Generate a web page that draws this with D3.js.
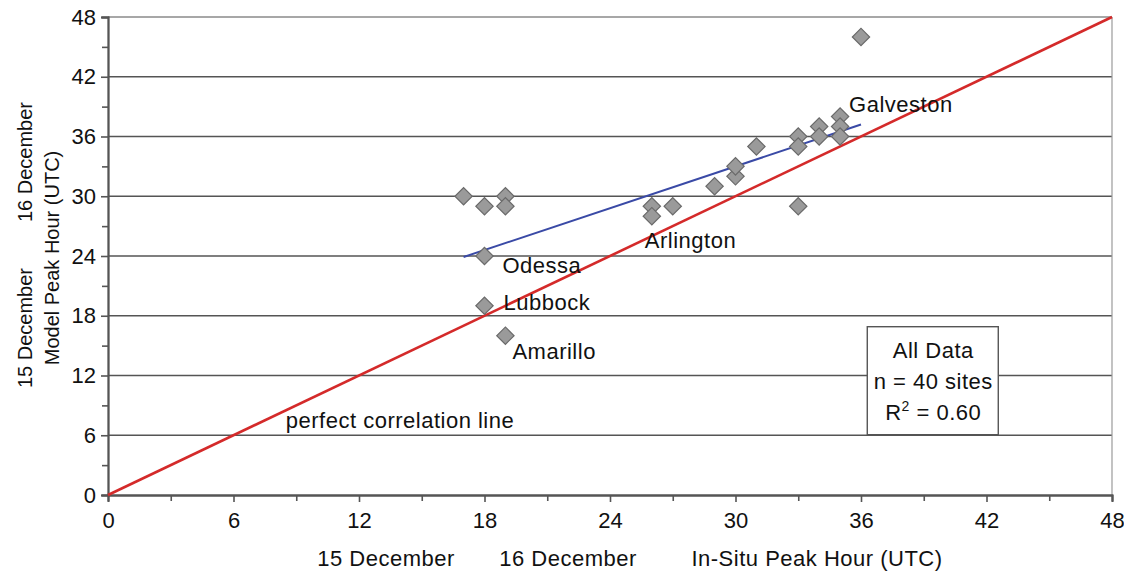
<!DOCTYPE html>
<html>
<head>
<meta charset="utf-8">
<script src="https://cdn.jsdelivr.net/npm/d3@7"></script>
<style>
  body { margin: 0; background: #fff; }
  text { font-family: Arial, "Liberation Sans", sans-serif; fill: #111; }
  .lbl { letter-spacing: 0.5px; }
</style>
</head>
<body>
<div id="chart"></div>
<script>
// observed peak hour (x) vs model peak hour (y), hours since 00 UTC 15 Dec
var siteX = [17, 18, 19, 19, 18, 18, 19, 26, 26, 27, 29, 30, 30, 31, 33, 33, 33, 34, 34, 35, 35, 35, 36];
var siteY = [30, 29, 30, 29, 24, 19, 16, 29, 28, 29, 31, 32, 33, 35, 36, 35, 29, 37, 36, 38, 37, 36, 46];
var siteName = ["", "", "", "", "Odessa", "Lubbock", "Amarillo", "", "Arlington", "", "", "", "", "", "", "", "", "", "", "Galveston", "", "", ""];
var trendX = [17, 36];
var trendY = [23.9, 37.2];
var tickVals = [0, 6, 12, 18, 24, 30, 36, 42, 48];
var minorVals = [3, 9, 15, 21, 27, 33, 39, 45];
var boxLines = ["All Data", "n = 40 sites", "R2 = 0.60"];

var W = 1124, H = 574;
var margin = { top: 17, right: 12, bottom: 79, left: 108 };
var w = W - margin.left - margin.right;
var h = H - margin.top - margin.bottom;

var svg = d3.select('#chart').append('svg')
    .attr('width', W)
    .attr('height', H);

var g = svg.append('g')
    .attr('transform', `translate(${margin.left},${margin.top})`);

var x = d3.scaleLinear().domain([0, 48]).range([0, w]);
var y = d3.scaleLinear().domain([0, 48]).range([h, 0]);

// horizontal grid
g.selectAll('.grid')
    .data(tickVals.slice(1, -1))
    .enter().append('line')
    .attr('x1', 0).attr('x2', w)
    .attr('y1', d => y(d)).attr('y2', d => y(d))
    .style('stroke', '#555')
    .style('stroke-width', 1.4);

// frame top/right
g.append('line').attr('x1', 0).attr('x2', w).attr('y1', 0).attr('y2', 0)
    .style('stroke', '#8a8a8a').style('stroke-width', 1.4);
g.append('line').attr('x1', w).attr('x2', w).attr('y1', 0).attr('y2', h)
    .style('stroke', '#9a9a9a').style('stroke-width', 1.2);

// axes
var xAxis = g.append('g')
    .attr('transform', `translate(0,${h})`)
    .call(d3.axisBottom(x).tickValues(tickVals).tickSize(7).tickPadding(10).tickFormat(d3.format('d')));
var xMinor = g.append('g')
    .attr('transform', `translate(0,${h})`)
    .call(d3.axisBottom(x).tickValues(minorVals).tickSize(6).tickFormat(''));
var yAxis = g.append('g')
    .call(d3.axisLeft(y).tickValues(tickVals).tickSize(7).tickPadding(5).tickFormat(d3.format('d')));
var yMinor = g.append('g')
    .call(d3.axisLeft(y).tickValues(minorVals).tickSize(6).tickFormat(''));

[xAxis, xMinor, yAxis, yMinor].forEach(function (a) {
    a.select('.domain').style('stroke', '#555').style('stroke-width', 1.8);
    a.selectAll('.tick line').style('stroke', '#555').style('stroke-width', 1.6);
    a.selectAll('.tick text').style('font-size', '22px').style('fill', '#111');
});

// perfect correlation line
g.append('line')
    .attr('x1', x(0)).attr('y1', y(0))
    .attr('x2', x(48)).attr('y2', y(48))
    .style('stroke', '#d42a2a')
    .style('stroke-width', 2.6);

// trend line
g.append('line')
    .attr('x1', x(trendX[0])).attr('y1', y(trendY[0]))
    .attr('x2', x(trendX[1])).attr('y2', y(trendY[1]))
    .style('stroke', '#3a4aa6')
    .style('stroke-width', 2);

// points
var diamond = d3.symbol().type(d3.symbolSquare).size(150);
g.selectAll('.pt')
    .data(siteX)
    .enter().append('path')
    .attr('d', diamond)
    .attr('transform', (d, i) => `translate(${x(d)},${y(siteY[i])}) rotate(45)`)
    .style('fill', '#9a9a9a')
    .style('stroke', '#6a6a6a')
    .style('stroke-width', 1.2);

// site labels
var labelOffset = {
    "Odessa": [18, 17],
    "Lubbock": [19, 4],
    "Amarillo": [7, 23],
    "Arlington": [-7, 32],
    "Galveston": [9, -5]
};
siteName.forEach(function (name, i) {
    if (!name) return;
    var off = labelOffset[name];
    g.append('text')
        .attr('class', 'lbl')
        .attr('x', x(siteX[i]) + off[0])
        .attr('y', y(siteY[i]) + off[1])
        .style('font-size', '22px')
        .text(name);
});

g.append('text')
    .attr('class', 'lbl')
    .attr('x', x(8.5))
    .attr('y', y(6) - 7)
    .style('font-size', '22px')
    .text('perfect correlation line');

// stats box
var box = g.append('g').attr('transform', `translate(${x(36.3)},${y(16.9)})`);
box.append('rect')
    .attr('width', 131).attr('height', 108)
    .style('fill', '#fff')
    .style('stroke', '#555')
    .style('stroke-width', 1.4);
var bt = box.selectAll('.bt')
    .data(boxLines)
    .enter().append('text')
    .attr('class', 'lbl')
    .attr('x', 66)
    .attr('y', (d, i) => 31 + i * 31)
    .attr('text-anchor', 'middle')
    .style('font-size', '22px');
bt.each(function (d) {
    var t = d3.select(this);
    if (d.indexOf('R2') === 0) {
        t.append('tspan').text('R');
        t.append('tspan').attr('dy', -9).style('font-size', '14px').text('2');
        t.append('tspan').attr('dy', 9).text(d.slice(2));
    } else {
        t.text(d);
    }
});

// axis titles
var titles = [
    ['15 December', 'translate(386,566)', 22, 'lbl'],
    ['16 December', 'translate(568,566)', 22, 'lbl'],
    ['In-Situ Peak Hour (UTC)', 'translate(817,566)', 22, 'lbl'],
    ['15 December', 'translate(32,328) rotate(-90)', 20, ''],
    ['16 December', 'translate(32,162) rotate(-90)', 20, ''],
    ['Model Peak Hour (UTC)', 'translate(59,258) rotate(-90)', 20, '']
];
titles.forEach(function (t) {
    svg.append('text')
        .attr('class', t[3])
        .attr('transform', t[1])
        .attr('text-anchor', 'middle')
        .style('font-size', t[2] + 'px')
        .text(t[0]);
});
</script>
</body>
</html>
